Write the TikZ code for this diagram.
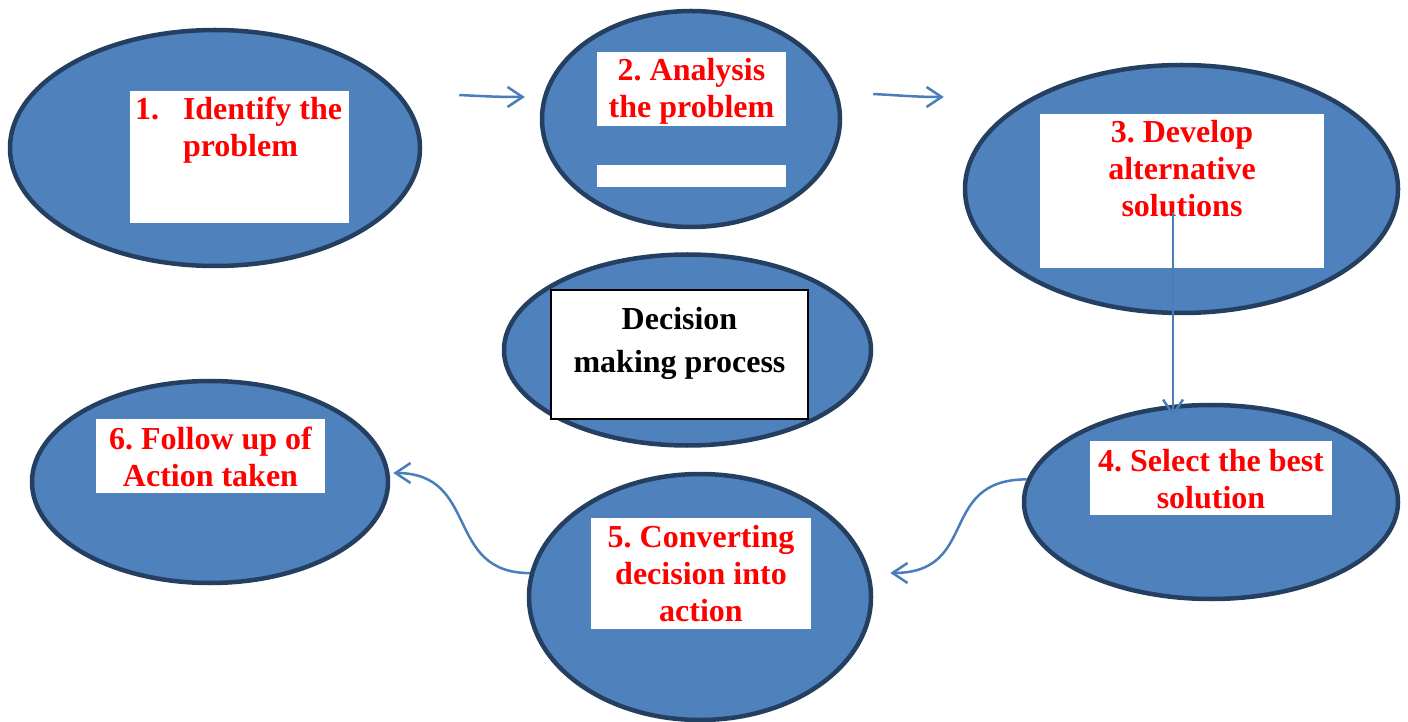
\documentclass[tikz,border=0pt]{standalone}
\usepackage{fontspec}
\setmainfont{Liberation Serif}
\usetikzlibrary{shapes.geometric}
\usetikzlibrary{arrows.meta}

\definecolor{ovalfill}{HTML}{4F81BD}
\definecolor{ovaledge}{HTML}{243F60}
\definecolor{linkblue}{HTML}{4A7EBB}

% white label: width, height, text (first baseline given as option)
\newcommand{\boxtext}[4][29pt]{\parbox[c][#3][t]{#2}{\centering\rule{0pt}{#1}#4}}

\begin{document}
\frenchspacing
\begin{tikzpicture}[x=1pt, y=1pt,
    oval/.style={ellipse, draw=ovaledge, line width=4.5pt, fill=ovalfill, inner sep=0pt},
    redbox/.style={fill=white, inner sep=0pt, text=red, font=\bfseries\fontsize{32}{37}\selectfont},
    flow/.style={draw=linkblue, line width=2.5pt, -{Straight Barb[length=15pt,width=20pt]}}]
    \useasboundingbox (0,0) rectangle (1408,721);

    % the ovals
    \node[oval, minimum width=410pt, minimum height=236pt] (e1) at (215,573) {};
    \node[oval, minimum width=298pt, minimum height=216pt] (e2) at (691,602) {};
    \node[oval, minimum width=433pt, minimum height=248pt] (e3) at (1181.5,532) {};
    \node[oval, minimum width=367pt, minimum height=191pt] (ec) at (687.5,371) {};
    \node[oval, minimum width=374pt, minimum height=194pt] (e4) at (1211,219) {};
    \node[oval, minimum width=342pt, minimum height=246pt] (e5) at (700,124) {};
    \node[oval, minimum width=356pt, minimum height=202pt] (e6) at (210,239) {};

    % labels
    \node[redbox] (b1) at (239.5,564) {\parbox[c][132pt][t]{219pt}{\raggedright
        \rule{0pt}{29pt}\hspace*{5pt}\makebox[48pt][l]{1.}Identify the\\\hspace*{53pt}problem}};
    \node[redbox] (b2) at (691.5,632) {\boxtext{189pt}{74pt}{2. Analysis\\the problem}};
    \node[fill=white, inner sep=0pt, minimum width=189pt, minimum height=22pt] (bar) at (691.5,545) {};
    \node[redbox] (b3) at (1182,530) {\boxtext{284pt}{154pt}{3. Develop\\alternative\\solutions}};
    \node[redbox, draw=black, line width=1.5pt, text=black, font=\bfseries\fontsize{32}{43}\selectfont]
        (bc) at (679.5,366.5) {\boxtext[40pt]{257pt}{129pt}{Decision\\making process}};
    \node[redbox] (b4) at (1211,243) {\boxtext[30pt]{242pt}{74pt}{4. Select the best\\solution}};
    \node[redbox] (b5) at (701,147.5) {\boxtext{220pt}{111pt}{5. Converting\\decision into\\action}};
    \node[redbox] (b6) at (210.5,265) {\boxtext[30pt]{229pt}{74pt}{6. Follow up of\\Action taken}};

    % arrows between the steps
    \draw[flow] ([shift={(37,53)}]e1.east) to[out=-3,in=180] ([shift={(-15,22)}]e2.west);
    \draw[flow] ([shift={(31,25)}]e2.east) to[out=-3,in=180] ([shift={(-19,92)}]e3.west);
    \draw[flow] ([shift={(-9,-21)}]b3.center) -- ([shift={(-38,-14)}]e4.north);
    \draw[flow] (e4.173) .. controls +(-90,0) and +(90,0) .. ([shift={(17,24)}]e5.east);
    \draw[flow] (e5.172) .. controls +(-86,0) and +(87,0) .. ([shift={(3,9)}]e6.east);
\end{tikzpicture}
\end{document}
